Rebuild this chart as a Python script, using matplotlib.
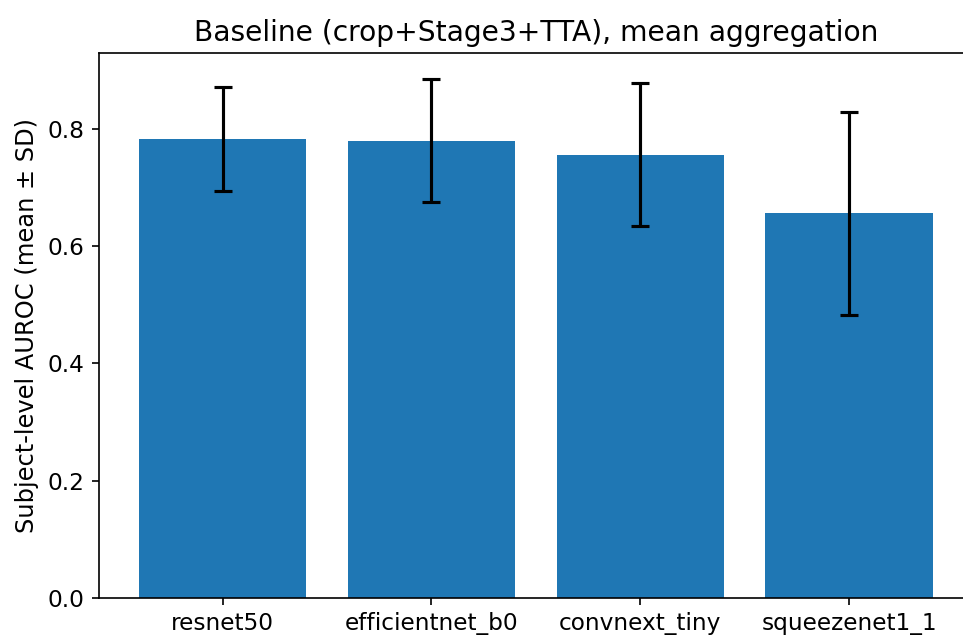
"""Bar chart of subject-level AUROC per backbone (mean +/- SD)."""

import matplotlib
matplotlib.use("Agg")
import matplotlib.pyplot as plt

models = ["resnet50", "efficientnet_b0", "convnext_tiny", "squeezenet1_1"]
auroc_mean = [0.783, 0.780, 0.756, 0.656]
auroc_sd = [0.089, 0.105, 0.122, 0.173]

plt.rcParams["font.size"] = 11.2


def main() -> None:
    fig = plt.figure(figsize=(963 / 150, 639 / 150), dpi=150)
    ax = fig.add_axes([0.1031, 0.0646, 0.9065, 0.852])

    x = range(len(models))
    ax.bar(x, auroc_mean, yerr=auroc_sd, capsize=4.5, color="#1f77b4",
           error_kw={"ecolor": "black", "elinewidth": 1.5, "capthick": 1.5})
    ax.set_xticks(list(x))
    ax.set_xticklabels(models)
    ax.set_ylabel("Subject-level AUROC (mean ± SD)", fontsize=11.6)
    ax.set_title("Baseline (crop+Stage3+TTA), mean aggregation", fontsize=13.5)

    fig.savefig("out.png", dpi=150)
    plt.close(fig)


if __name__ == "__main__":
    main()
